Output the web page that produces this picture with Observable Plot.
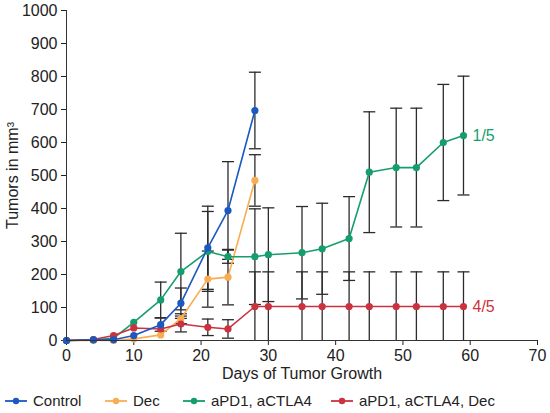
<!DOCTYPE html>
<html>
<head>
<meta charset="utf-8">
<script src="https://cdn.jsdelivr.net/npm/d3@7"></script>
<script src="https://cdn.jsdelivr.net/npm/@observablehq/plot@0.6"></script>
<style>
  html, body { margin: 0; padding: 0; background: #fff; }
  body { width: 550px; height: 413px; overflow: hidden; font-family: "Liberation Sans", Arial, sans-serif; }
  #legend { display: flex; align-items: center; height: 25px; font-size: 15px; color: #222; }
  #legend .item { display: flex; align-items: center; position: absolute; }
  #legend svg { margin-right: 5px; }
</style>
</head>
<body>
<div id="chart"></div>
<div id="legend" style="position:relative"></div>
<script>
// ---- data ----
const seriesNames = ["Control", "Dec", "aPD1, aCTLA4", "aPD1, aCTLA4, Dec"];
const colors = ["#1a58c2", "#f8ad52", "#159e6c", "#cb3240"];

const controlDays = [0, 4, 7, 10, 14, 17, 21, 24, 28];
const controlMean = [0, 2, 2, 15, 48, 113, 281, 394, 697];
const controlErr  = [0, 0, 0, 0, 20, 46, 126, 148, 116];

const decDays = [0, 4, 7, 10, 14, 17, 21, 24, 28];
const decMean = [0, 0, 0, 5, 17, 66, 186, 192, 485];
const decErr  = [0, 0, 0, 0, 0, 15, 85, 84, 78];

const comboDays = [0, 4, 7, 10, 14, 17, 21, 24, 28, 30, 35, 38, 42, 45, 49, 52, 56, 59];
const comboMean = [0, 2, 7, 55, 123, 209, 270, 254, 254, 260, 266, 278, 309, 510, 524, 524, 600, 621];
const comboErr  = [0, 0, 0, 0, 54, 116, 121, 20, 145, 142, 140, 138, 127, 183, 180, 180, 176, 180];

const tripleDays = [0, 4, 7, 10, 14, 17, 21, 24, 28, 30, 35, 38, 42, 45, 49, 52, 56, 59];
const tripleMean = [0, 3, 15, 38, 35, 50, 40, 35, 103, 103, 103, 103, 103, 103, 103, 103, 103, 103];
const tripleErr  = [0, 0, 0, 0, 0, 24, 25, 28, 105, 105, 105, 105, 105, 105, 105, 105, 105, 105];

const xTicks = [0, 10, 20, 30, 40, 50, 60, 70];
const yTicks = [0, 100, 200, 300, 400, 500, 600, 700, 800, 900, 1000];

const endLabels = [
  {series: "aPD1, aCTLA4", day: 59, value: 621, text: "1/5"},
  {series: "aPD1, aCTLA4, Dec", day: 59, value: 103, text: "4/5"}
];

// ---- build table ----
function rows(name, days, mean, err) {
  return days.map((d, i) => ({series: name, day: d, value: mean[i],
    lo: Math.max(0, mean[i] - err[i]), hi: mean[i] + err[i], err: err[i]}));
}
const all = [
  ...rows("Control", controlDays, controlMean, controlErr),
  ...rows("Dec", decDays, decMean, decErr),
  ...rows("aPD1, aCTLA4", comboDays, comboMean, comboErr),
  ...rows("aPD1, aCTLA4, Dec", tripleDays, tripleMean, tripleErr)
];
const withErr = all.filter(d => d.err > 0);
const drawOrder = ["Dec", "aPD1, aCTLA4", "aPD1, aCTLA4, Dec", "Control"];
const colorOf = Object.fromEntries(seriesNames.map((s, i) => [s, colors[i]]));

const capSymbol = {
  draw(context, size) {
    const w = Math.sqrt(size / Math.PI);
    context.moveTo(-w, 0);
    context.lineTo(w, 0);
  }
};

const errColor = "#2b2b2b";
const textColor = "#222";
const marks = [
  Plot.axisX({ticks: xTicks, tickFormat: d => String(d), tickSize: 5, fontSize: 16, color: textColor,
    label: "Days of Tumor Growth", labelAnchor: "center", labelOffset: 38, labelArrow: "none"}),
  Plot.axisY({ticks: yTicks, tickFormat: d => String(d), tickSize: 5, fontSize: 16, color: textColor,
    label: "Tumors in mm³", labelAnchor: "center", labelOffset: 60, labelArrow: "none"}),
  Plot.ruleX(withErr, {x: "day", y1: "lo", y2: "hi", stroke: errColor, strokeWidth: 1.3}),
  Plot.dot(withErr, {x: "day", y: "hi", symbol: capSymbol, r: 6, stroke: errColor, strokeWidth: 1.3, fill: "none"}),
  Plot.dot(withErr.filter(d => d.lo > 0), {x: "day", y: "lo", symbol: capSymbol, r: 6, stroke: errColor, strokeWidth: 1.3, fill: "none"}),
];
for (const s of drawOrder) {
  const data = all.filter(d => d.series === s);
  marks.push(Plot.line(data, {x: "day", y: "value", stroke: colorOf[s], strokeWidth: 1.6}));
  marks.push(Plot.dot(data, {x: "day", y: "value", fill: colorOf[s], r: 3.6}));
}
marks.push(Plot.ruleY([0], {stroke: "#333", strokeWidth: 1}));
marks.push(Plot.ruleX([0], {y1: 0, y2: 1000, stroke: "#333", strokeWidth: 1}));
marks.push(Plot.text(endLabels, {x: "day", y: "value", text: "text", fill: d => colorOf[d.series],
  dx: 9, textAnchor: "start", fontSize: 16}));

const chart = Plot.plot({
  width: 550,
  height: 388,
  marginLeft: 66,
  marginRight: 13,
  marginTop: 10,
  marginBottom: 48,
  style: {fontFamily: "Liberation Sans, Arial, sans-serif", fontSize: "15px", color: textColor, background: "#fff"},
  x: {domain: [0, 70]},
  y: {domain: [0, 1000]},
  color: {domain: seriesNames, range: colors},
  marks
});
document.getElementById("chart").appendChild(chart);

// ---- legend ----
const legend = document.getElementById("legend");
const legendX = [4, 104, 182, 330];
seriesNames.forEach((s, i) => {
  const item = document.createElement("div");
  item.className = "item";
  item.style.left = legendX[i] + "px";
  item.innerHTML = `<svg width="24" height="10"><line x1="1" x2="23" y1="5" y2="5" stroke="${colors[i]}" stroke-width="1.8"/><circle cx="12" cy="5" r="3.2" fill="${colors[i]}"/></svg><span>${s}</span>`;
  legend.appendChild(item);
});
</script>
</body>
</html>
